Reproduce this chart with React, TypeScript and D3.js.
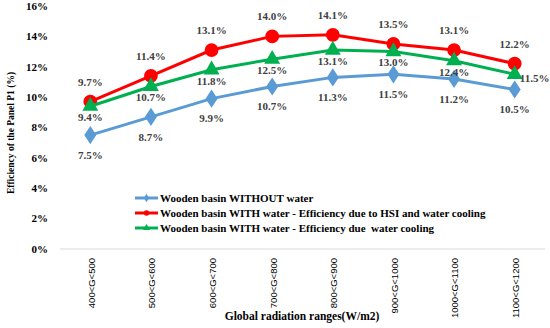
import React, { useRef, useEffect } from "react";
import * as d3 from "d3";

const categories = [
  "400<G<500", "500<G<600", "600<G<700", "700<G<800",
  "800<G<900", "900<G<1000", "1000<G<1100", "1100<G<1200",
];
const withoutWater = [7.5, 8.7, 9.9, 10.7, 11.3, 11.5, 11.2, 10.5];
const withWaterHsi = [9.7, 11.4, 13.1, 14.0, 14.1, 13.5, 13.1, 12.2];
const withWaterCooling = [9.4, 10.7, 11.8, 12.5, 13.1, 13.0, 12.4, 11.5];
const yTicks = [0, 2, 4, 6, 8, 10, 12, 14, 16];

const seriesNames = [
  "Wooden basin WITHOUT water",
  "Wooden basin WITH water - Efficiency due to HSI and water cooling",
  "Wooden basin WITH water - Efficiency due  water cooling",
];

const W = 550;
const H = 328;
const serif = "'Liberation Serif', 'Times New Roman', serif";

export default function App() {
  const svgRef = useRef<SVGSVGElement | null>(null);

  useEffect(() => {
    if (!svgRef.current) return;
    const svg = d3.select(svgRef.current);
    svg.selectAll("*").remove();

    const left = 60, right = 545, top = 6, bottom = 249;

    const x = d3.scaleBand<string>().domain(categories).range([left, right]);
    const y = d3.scaleLinear().domain([0, 16]).range([bottom, top]);
    const cx = (c: string) => (x(c) as number) + x.bandwidth() / 2;

    // y tick labels
    svg.append("g")
      .selectAll("text")
      .data(yTicks)
      .enter()
      .append("text")
      .attr("x", 48)
      .attr("y", (d) => y(d))
      .attr("dy", "0.35em")
      .attr("text-anchor", "end")
      .style("font-family", serif)
      .style("font-weight", "bold")
      .style("font-size", "11px")
      .text((d) => `${d}%`);

    // baseline
    svg.append("line")
      .attr("x1", left).attr("x2", right)
      .attr("y1", y(0)).attr("y2", y(0))
      .attr("stroke", "#d9d9d9").attr("stroke-width", 1);

    // category labels
    svg.append("g")
      .selectAll("text")
      .data(categories)
      .enter()
      .append("text")
      .attr("transform", (d) => `translate(${cx(d) + 1},258) rotate(-90)`)
      .attr("dy", "0.35em")
      .attr("text-anchor", "end")
      .style("font-family", "'Liberation Sans', Arial, sans-serif")
      .style("font-size", "9.5px")
      .text((d) => d);

    // axis titles
    svg.append("text")
      .attr("transform", `translate(11,133) rotate(-90)`)
      .attr("text-anchor", "middle")
      .attr("dy", "0.35em")
      .style("font-family", serif)
      .style("font-weight", "bold")
      .style("font-size", "9.5px")
      .text("Efficiency of the Panel P1 (%)");

    svg.append("text")
      .attr("x", 302)
      .attr("y", 316)
      .attr("text-anchor", "middle")
      .attr("dy", "0.35em")
      .style("font-family", serif)
      .style("font-weight", "bold")
      .style("font-size", "11.5px")
      .text("Global radiation ranges(W/m2)");

    const line = d3.line<number>()
      .x((_, i) => cx(categories[i]))
      .y((d) => y(d));

    const series = [
      { values: withoutWater, color: "#5b9bd5", symbol: d3.symbolDiamond, size: 95, dy: 20 },
      { values: withWaterHsi, color: "#ff0000", symbol: d3.symbolCircle, size: 150, dy: -20 },
      { values: withWaterCooling, color: "#00b050", symbol: d3.symbolTriangle, size: 110, dy: 11 },
    ];

    series.forEach((s, si) => {
      const g = svg.append("g");
      g.append("path")
        .datum(s.values)
        .attr("d", line)
        .attr("fill", "none")
        .attr("stroke", s.color)
        .attr("stroke-width", 3);

      g.selectAll("path.m")
        .data(s.values)
        .enter()
        .append("path")
        .attr("class", "m")
        .attr("d", d3.symbol().type(s.symbol).size(s.size) as any)
        .attr("transform", (d, i) => {
          const sy = s.symbol === d3.symbolDiamond ? "scale(1.15,1)" : "";
          return `translate(${cx(categories[i])},${y(d)}) ${sy}`;
        })
        .attr("fill", s.color);

      // legend
      const ly = 198 + si * 15;
      const lg = svg.append("g");
      lg.append("line")
        .attr("x1", 135).attr("x2", 158)
        .attr("y1", ly).attr("y2", ly)
        .attr("stroke", s.color).attr("stroke-width", 3);
      lg.append("path")
        .attr("d", d3.symbol().type(s.symbol).size(22) as any)
        .attr("transform", `translate(146.5,${ly})`)
        .attr("fill", s.color);
      lg.append("text")
        .attr("x", 160)
        .attr("y", ly)
        .attr("dy", "0.35em")
        .style("font-family", serif)
        .style("font-weight", "bold")
        .style("font-size", "11px")
        .style("white-space", "pre")
        .text(seriesNames[si]);
    });

    // data labels drawn on top
    series.forEach((s, si) => {
      svg.append("g")
        .selectAll("text")
        .data(s.values)
        .enter()
        .append("text")
        .attr("x", (d, i) => {
          const last = si === 2 && i === s.values.length - 1;
          return cx(categories[i]) + (last ? 20 : 0);
        })
        .attr("y", (d, i) => {
          const last = si === 2 && i === s.values.length - 1;
          return y(d) + (last ? 4 : s.dy);
        })
        .attr("dy", "0.35em")
        .attr("text-anchor", "middle")
        .style("font-family", serif)
        .style("font-weight", "bold")
        .style("font-size", "11px")
        .style("fill", "#404040")
        .text((d) => `${d.toFixed(1)}%`);
    });
  }, []);

  return (
    <div style={{ position: "absolute", left: 0, top: 0, width: W, height: H, background: "#fff" }}>
      <svg ref={svgRef} width={W} height={H} />
    </div>
  );
}
